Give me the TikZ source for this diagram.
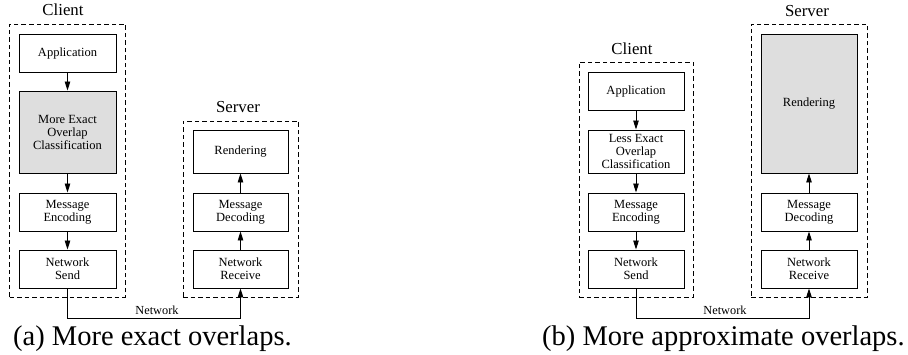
\documentclass[tikz,border=0pt]{standalone}
\usepackage{fontspec}
\setmainfont{Liberation Serif}
\usetikzlibrary{arrows.meta}
\definecolor{boxgray}{gray}{0.87}
\tikzset{
  blk/.style={draw, line width=0.95pt, inner sep=0pt, align=center,
    font=\fontsize{12.5}{13}\selectfont},
  cwide/.style={minimum width=97pt},
  swide/.style={minimum width=95pt},
  rwide/.style={minimum width=96pt},
  tall/.style={minimum height=38pt},
  grp/.style={draw, line width=0.9pt, dash pattern=on 4.5pt off 3pt, inner sep=0pt},
  grplbl/.style={anchor=base, inner sep=0pt, font=\fontsize{16.8}{18}\selectfont},
  netlbl/.style={anchor=base, inner sep=0pt, font=\fontsize{12.3}{13}\selectfont},
  caption/.style={anchor=base west, inner sep=0pt, font=\fontsize{28.5}{30}\selectfont},
  flow/.style={line width=0.9pt, -{Triangle[length=9pt,width=5.5pt]}}
}
\begin{document}
\begin{tikzpicture}[x=1pt, y=-1pt]
\useasboundingbox (0,0) rectangle (908,355);

% ---------- (a) client ----------
\node[grp, minimum width=115.5pt, minimum height=273pt] (ca) at (67.25,160.5) {};
\node[grplbl] (calbl) at (63,16) {Client};
\node[blk, cwide, tall] (aapp) at (67.5,53) {Application};
\node[blk, cwide, minimum height=82pt, fill=boxgray] (aclass) at (67.5,132)
  {More Exact\\Overlap\\Classification};
\node[blk, cwide, tall] (aenc) at (67.5,212) {Message\\Encoding};
\node[blk, cwide, tall] (asend) at (67.5,269) {Network\\Send};

% ---------- (a) server ----------
\node[grp, minimum width=115pt, minimum height=176pt] (sa) at (240.5,209) {};
\node[grplbl] (salbl) at (238,113) {Server};
\node[blk, swide, minimum height=43pt] (arend) at (240.5,151.5) {Rendering};
\node[blk, swide, tall] (adec) at (240.5,212) {Message\\Decoding};
\node[blk, swide, tall] (arecv) at (240.5,269) {Network\\Receive};

\draw[flow] (aapp) -- (aclass);
\draw[flow] (aclass) -- (aenc);
\draw[flow] (aenc) -- (asend);
\draw[flow] (arecv) -- (adec);
\draw[flow] (adec) -- (arend);

\coordinate (anet) at (0,318);
\draw[flow] (asend.south) -- (asend.south |- anet) -| (arecv.south);
\node[netlbl] (anetlbl) at (157,315) {Network};
\node[caption] (acap) at (13,346) {(a) More exact overlaps.};

% ---------- (b) client ----------
\node[grp, minimum width=114pt, minimum height=235pt] (cb) at (636,179.5) {};
\node[grplbl] (cblbl) at (632,54.5) {Client};
\node[blk, rwide, tall] (bapp) at (636,91.5) {Application};
\node[blk, rwide, minimum height=43pt] (bclass) at (636,151.5)
  {Less Exact\\Overlap\\Classification};
\node[blk, rwide, tall] (benc) at (636,212) {Message\\Encoding};
\node[blk, rwide, tall] (bsend) at (636,269) {Network\\Send};

% ---------- (b) server ----------
\node[grp, minimum width=116pt, minimum height=273pt] (sb) at (809,160.5) {};
\node[grplbl] (sblbl) at (807,16.7) {Server};
\node[blk, rwide, minimum height=139pt, fill=boxgray] (brend) at (809,103.5) {Rendering};
\node[blk, rwide, tall] (bdec) at (809,212) {Message\\Decoding};
\node[blk, rwide, tall] (brecv) at (809,269) {Network\\Receive};

\draw[flow] (bapp) -- (bclass);
\draw[flow] (bclass) -- (benc);
\draw[flow] (benc) -- (bsend);
\draw[flow] (brecv) -- (bdec);
\draw[flow] (bdec) -- (brend);

\coordinate (bnet) at (0,318);
\draw[flow] (bsend.south) -- (bsend.south |- bnet) -| (brecv.south);
\node[netlbl] (bnetlbl) at (725,315) {Network};
\node[caption] (bcap) at (542,346) {(b) More approximate overlaps.};
\end{tikzpicture}
\end{document}
